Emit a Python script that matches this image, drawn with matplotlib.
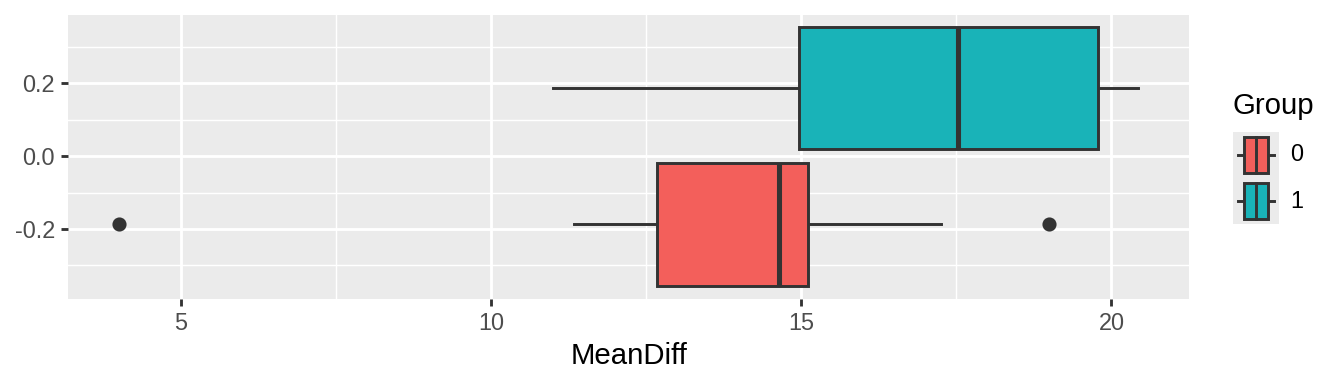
import numpy as np
import matplotlib.pyplot as plt
from matplotlib.patches import Rectangle

plt.rcParams['font.family'] = ['Liberation Sans', 'DejaVu Sans']

# boxplot summary values (MeanDiff by Group)
groups = ["0", "1"]
fills = ["#F35F5B", "#19B3B8"]
q1 = [12.68, 14.97]
med = [14.64, 17.52]
q3 = [15.11, 19.78]
whis_lo = [11.34, 11.00]
whis_hi = [17.25, 20.43]
fliers = [[4.01, 19.00], []]
y_pos = [-0.1875, 0.1875]
box_h = 0.3375

x_ticks = [5, 10, 15, 20]
y_ticks = [-0.2, 0.0, 0.2]
y_labels = ["-0.2", "0.0", "0.2"]

dark = "#333333"
panel = "#EBEBEB"

fig = plt.figure(figsize=(7, 2), dpi=192)
ax = fig.add_axes([68.3 / 1344, 1 - 299.3 / 384, (1189 - 68.3) / 1344, (299.3 - 15) / 384])
ax.set_facecolor(panel)
for s in ax.spines.values():
    s.set_visible(False)

stats = []
for i in range(len(groups)):
    stats.append(dict(med=med[i], q1=q1[i], q3=q3[i], whislo=whis_lo[i],
                      whishi=whis_hi[i], fliers=fliers[i]))

bp = ax.bxp(stats, positions=y_pos, widths=box_h, orientation="horizontal",
            patch_artist=True, showcaps=False, manage_ticks=False,
            boxprops=dict(edgecolor=dark, linewidth=1.1),
            whiskerprops=dict(color=dark, linewidth=1.1),
            medianprops=dict(color=dark, linewidth=1.9, solid_capstyle="butt"),
            flierprops=dict(marker="o", markerfacecolor=dark, markeredgecolor=dark,
                            markersize=4.3))
for patch, c in zip(bp["boxes"], fills):
    patch.set_facecolor(c)
for art in bp["whiskers"] + bp["fliers"]:
    art.set_zorder(3)
for art in bp["boxes"]:
    art.set_zorder(4)
for art in bp["medians"]:
    art.set_zorder(5)

ax.set_xlim(3.188, 21.25)
ax.set_ylim(-0.393, 0.388)
ax.set_xticks(x_ticks)
ax.set_xticks([7.5, 12.5, 17.5], minor=True)
ax.set_yticks(y_ticks)
ax.set_yticklabels(y_labels)
ax.set_yticks([-0.3, -0.1, 0.1, 0.3], minor=True)
ax.grid(which="major", color="white", linewidth=1.07)
ax.grid(which="minor", color="white", linewidth=0.53)
ax.set_axisbelow(True)
ax.tick_params(which="major", length=2.75, width=1.07, color=dark,
               labelsize=8.8, labelcolor="#4D4D4D", pad=2.2)
ax.tick_params(which="minor", length=0)
ax.set_xlabel("MeanDiff", fontsize=11, color="black", labelpad=2.5)

# legend drawn by hand, ggplot style
fig.text(1233 / 1344, 1 - 106 / 384, "Group", fontsize=11, ha="left", va="center")
lax = fig.add_axes([1233 / 1344, 1 - 224 / 384, 46 / 1344, 92 / 384])
lax.set_xlim(0, 46)
lax.set_ylim(92, 0)
lax.axis("off")
for i, c in enumerate(fills):
    y0 = i * 46
    lax.add_patch(Rectangle((0, y0), 46, 46, facecolor=panel, edgecolor="none", zorder=1))
    lax.plot([5, 41], [y0 + 23, y0 + 23], color=dark, lw=1.1, zorder=2)
    lax.add_patch(Rectangle((11, y0 + 5.3), 24, 35.4, facecolor=c, edgecolor=dark,
                            lw=1.1, zorder=3))
    lax.plot([23, 23], [y0 + 5.3, y0 + 40.7], color=dark, lw=1.1, zorder=4)
    fig.text(1290 / 1344, 1 - (y0 + 23 + 132) / 384, groups[i], fontsize=8.8,
             ha="left", va="center", color="black")

fig.savefig("out.png", dpi=192)
